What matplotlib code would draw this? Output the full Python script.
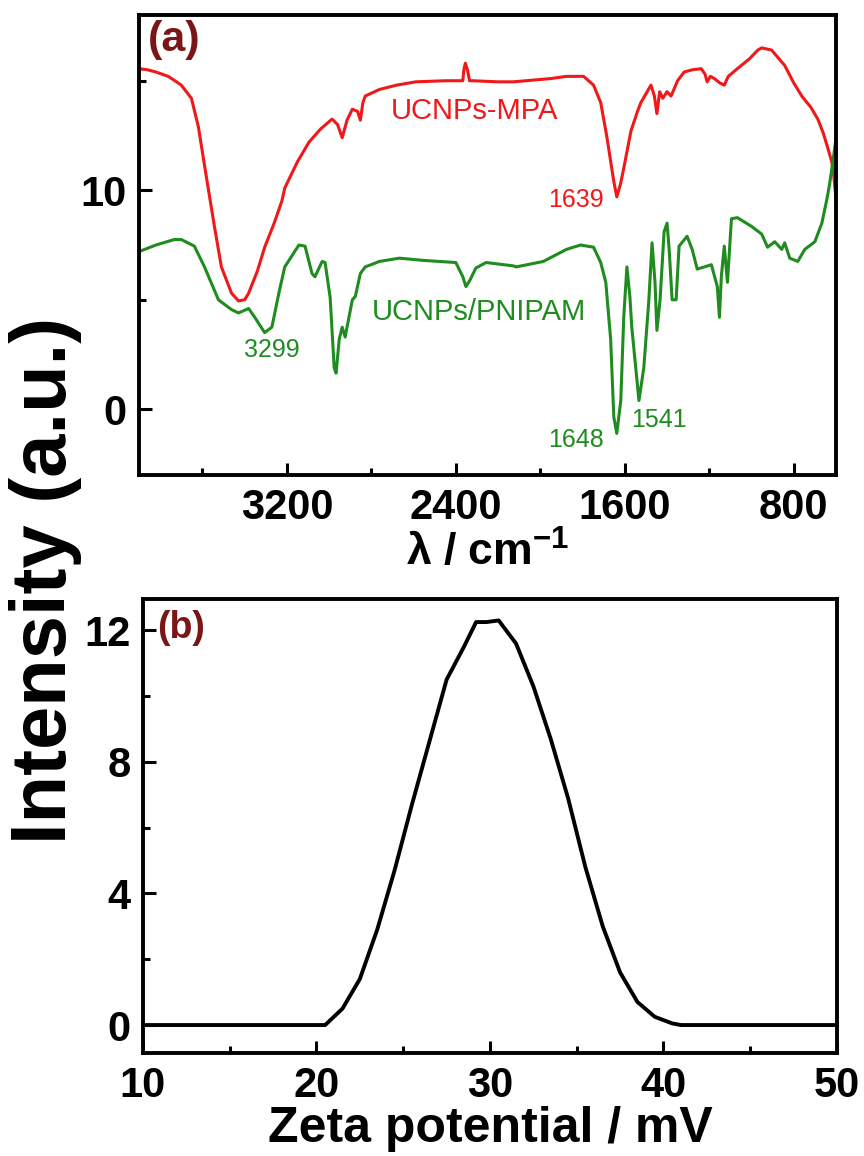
import matplotlib
matplotlib.use("Agg")
import matplotlib.pyplot as plt
from matplotlib.ticker import MultipleLocator

plt.rcParams['font.family'] = ['Liberation Sans', 'DejaVu Sans']
plt.rcParams['mathtext.fontset'] = 'custom'
plt.rcParams['mathtext.rm'] = 'Liberation Sans'
plt.rcParams['mathtext.bf'] = 'Liberation Sans:bold'

# ---------------- data: panel (a) FTIR ----------------
mpa_wn = [3900, 3860, 3820, 3762, 3730, 3700, 3652, 3619, 3581, 3543, 3510, 3462, 3429, 3400,
          3381, 3340, 3305, 3260, 3224, 3210, 3150, 3095, 3040, 2986, 2960, 2938, 2915, 2890,
          2865, 2852, 2840, 2829, 2762, 2680, 2590, 2450, 2367, 2362, 2355, 2345, 2335, 2319,
          2200, 2129, 2067, 1950, 1876, 1795, 1748, 1714, 1686, 1652, 1638, 1620, 1605, 1571,
          1540, 1524, 1500, 1476, 1460, 1448, 1435, 1420, 1400, 1381, 1350, 1319, 1280, 1238,
          1220, 1210, 1195, 1176, 1150, 1129, 1110, 1067, 1010, 970, 952, 905, 843, 800, 762,
          720, 686, 660, 638, 620, 612, 605, 600]
mpa_int = [15.55, 15.5, 15.4, 15.2, 15.0, 14.8, 14.2, 12.9, 10.6, 8.35, 6.5, 5.3, 4.95, 5.0,
           5.3, 6.3, 7.4, 8.5, 9.5, 10.1, 11.3, 12.2, 12.8, 13.25, 13.0, 12.4, 13.2, 13.7,
           13.6, 13.2, 14.0, 14.3, 14.6, 14.8, 14.95, 15.0, 15.0, 15.5, 15.8, 15.5, 15.0, 15.0,
           14.95, 14.95, 15.0, 15.1, 15.2, 15.2, 14.8, 14.0, 12.5, 10.4, 9.7, 10.3, 11.0, 12.7,
           13.6, 14.0, 14.4, 14.8, 14.3, 13.5, 14.5, 14.2, 14.5, 14.3, 15.0, 15.4, 15.5, 15.55,
           15.3, 14.95, 15.2, 15.1, 14.9, 14.8, 15.2, 15.55, 16.0, 16.4, 16.5, 16.4, 15.7, 14.9, 14.3,
           13.8, 13.25, 12.6, 11.9, 11.3, 10.8, 10.1, 9.7]

pnipam_wn = [3900, 3820, 3733, 3700, 3638, 3590, 3524, 3462, 3429, 3381, 3352, 3305, 3271,
             3238, 3210, 3143, 3114, 3081, 3067, 3033, 3019, 2995, 2976, 2967, 2952, 2938,
             2924, 2890, 2876, 2852, 2829, 2762, 2667, 2557, 2400, 2367, 2352, 2333, 2305,
             2257, 2129, 2114, 1986, 1876, 1810, 1748, 1714, 1690, 1667, 1652, 1638, 1619,
             1605, 1590, 1576, 1567, 1533, 1510, 1486, 1471, 1457, 1448, 1433, 1414, 1400,
             1390, 1376, 1357, 1343, 1305, 1281, 1257, 1190, 1162, 1152, 1143, 1129, 1114,
             1095, 1067, 1000, 952, 924, 890, 857, 843, 819, 781, 748, 700, 667, 643, 630,
             615, 600]
pnipam_int = [7.2, 7.5, 7.75, 7.75, 7.45, 6.5, 5.0, 4.55, 4.4, 4.6, 4.2, 3.5, 3.75,
              5.3, 6.5, 7.5, 7.45, 6.2, 6.05, 6.75, 6.7, 5.1, 1.9, 1.65, 3.2, 3.75,
              3.3, 5.0, 5.15, 6.2, 6.5, 6.75, 6.9, 6.8, 6.7, 6.05, 5.6, 5.9, 6.45,
              6.7, 6.55, 6.5, 6.75, 7.3, 7.5, 7.4, 6.7, 5.8, 3.2, -0.35, -1.1, 0.4,
              4.2, 6.5, 5.15, 3.75, 0.4, 1.9, 5.0, 7.6, 5.8, 3.6, 5.0, 8.1, 8.5,
              7.3, 5.0, 5.0, 7.45, 7.9, 7.3, 6.4, 6.6, 5.6, 4.2, 6.05, 7.45, 5.8,
              8.7, 8.75, 8.35, 8.0, 7.4, 7.65, 7.3, 7.6, 6.9, 6.75, 7.3, 7.65, 8.5, 9.6, 10.3,
              11.3, 12.4]

# ---------------- data: panel (b) zeta potential ----------------
zeta_mv = [10, 20.5, 21.5, 22.5, 23.5, 24.5, 25.5, 26.5, 27.5, 28.5, 29.2, 29.8, 30.5,
           31.5, 32.5, 33.5, 34.5, 35.5, 36.5, 37.5, 38.5, 39.5, 40.5, 41, 50]
zeta_int = [0, 0, 0.5, 1.4, 2.9, 4.7, 6.7, 8.6, 10.5, 11.5, 12.25, 12.25, 12.3,
            11.6, 10.3, 8.7, 6.9, 4.8, 3.0, 1.6, 0.7, 0.25, 0.05, 0, 0]

RED = '#F01818'
GREEN = '#1E8C1E'
MAROON = '#7B1616'

fig = plt.figure(figsize=(8.64, 11.56), dpi=100)
ax1 = fig.add_axes([0.1609, 0.5891, 0.8067, 0.3979])
ax2 = fig.add_axes([0.1655, 0.0891, 0.8032, 0.3927])

tick_font = dict(fontsize=30, fontweight='bold')

for ax in (ax1, ax2):
    for sp in ax.spines.values():
        sp.set_linewidth(2.8)
    ax.tick_params(which='both', direction='in', width=2.2, top=False, right=False, pad=9)
    ax.tick_params(which='major', length=9, labelsize=30)
    ax.tick_params(which='minor', length=5)

# panel (a)
ax1.plot(mpa_wn, mpa_int, color=RED, lw=2.2)
ax1.plot(pnipam_wn, pnipam_int, color=GREEN, lw=2.2)
ax1.set_xlim(3900, 600)
ax1.set_ylim(-3.0, 18.0)
ax1.xaxis.set_minor_locator(MultipleLocator(400))
ax1.yaxis.set_minor_locator(MultipleLocator(5))
ax1.set_xticks([3200, 2400, 1600, 800])
ax1.set_yticks([0, 10])
ax1.set_xticklabels(['3200', '2400', '1600', '800'], **tick_font)
ax1.set_yticklabels(['0', '10'], **tick_font)
ax1.set_xlabel(r'λ / cm$^{\mathbf{-1}}$', fontsize=32, fontweight='bold', labelpad=2)

ax1.text(2310, 13.6, 'UCNPs-MPA', color=RED, fontsize=21, ha='center', va='center')
ax1.text(2290, 4.43, 'UCNPs/PNIPAM', color=GREEN, fontsize=21, ha='center', va='center')
ax1.text(3271, 2.7, '3299', color=GREEN, fontsize=18, ha='center', va='center')
ax1.text(1833, 9.55, '1639', color=RED, fontsize=18, ha='center', va='center')
ax1.text(1833, -1.4, '1648', color=GREEN, fontsize=18, ha='center', va='center')
ax1.text(1438, -0.5, '1541', color=GREEN, fontsize=18, ha='center', va='center')
ax1.text(0.012, 0.99, '(a)', transform=ax1.transAxes, color=MAROON, fontsize=31,
         fontweight='bold', ha='left', va='top')

# panel (b)
ax2.plot(zeta_mv, zeta_int, color='black', lw=2.8)
ax2.set_xlim(10, 50)
ax2.set_ylim(-0.85, 12.95)
ax2.set_xticks([10, 20, 30, 40, 50])
ax2.set_yticks([0, 4, 8, 12])
ax2.xaxis.set_minor_locator(MultipleLocator(5))
ax2.yaxis.set_minor_locator(MultipleLocator(2))
ax2.set_xticklabels(['10', '20', '30', '40', '50'], **tick_font)
ax2.set_yticklabels(['0', '4', '8', '12'], **tick_font)
ax2.set_xlabel('Zeta potential / mV', fontsize=36, fontweight='bold', labelpad=0)
ax2.text(0.02, 0.975, '(b)', transform=ax2.transAxes, color=MAROON, fontsize=27,
         fontweight='bold', ha='left', va='top')

fig.text(0.053, 0.498, 'Intensity (a.u.)', rotation=90, fontsize=56, fontweight='bold',
         ha='center', va='center')

fig.savefig('out.png', dpi=100)
